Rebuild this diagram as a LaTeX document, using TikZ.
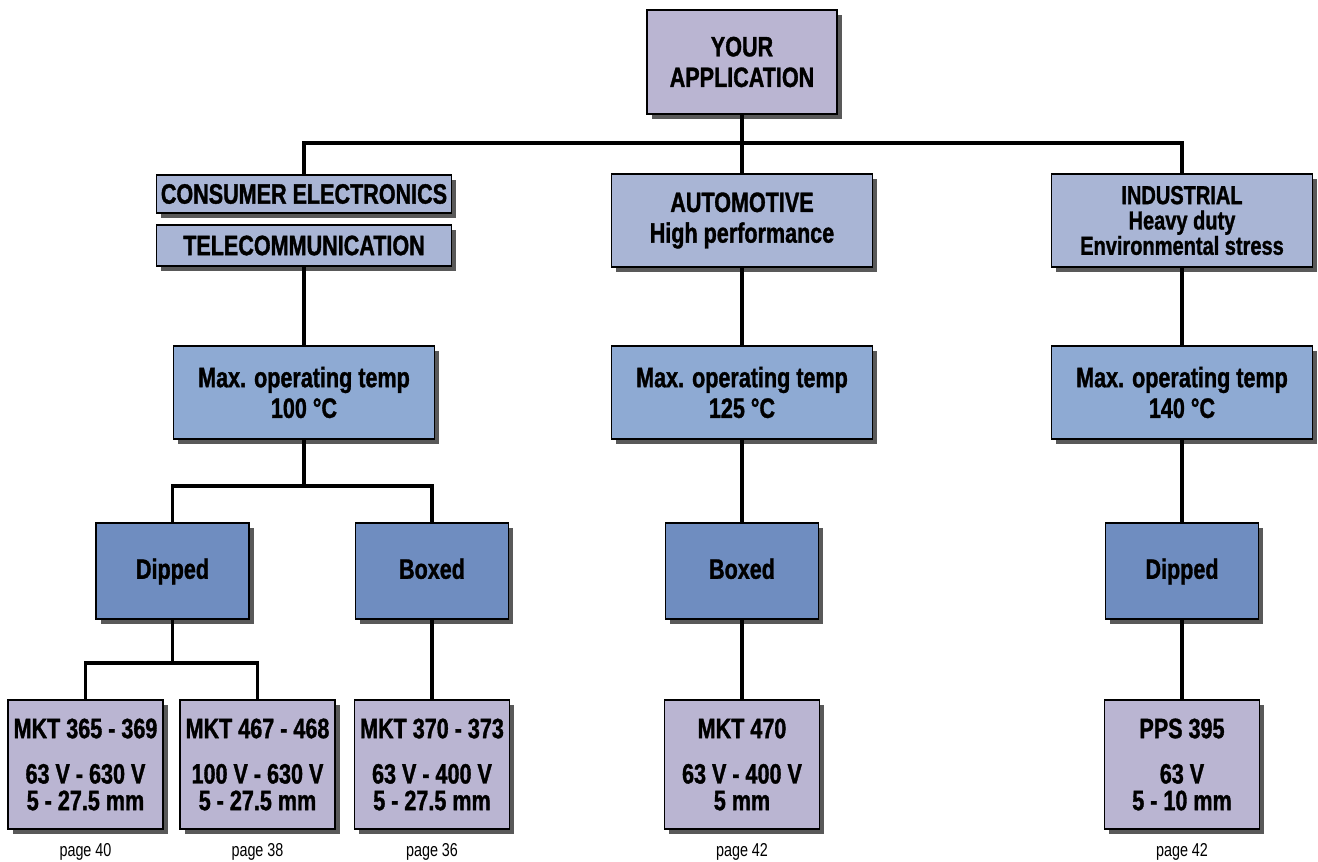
\documentclass[tikz,border=0pt]{standalone}
\usepackage{fontspec}
\setmainfont{Liberation Sans}[FakeStretch=0.77, BoldFeatures={FakeBold=1.2}]
\usetikzlibrary{shadows}

\definecolor{appfill}{HTML}{BAB5D2}
\definecolor{catfill}{HTML}{A9B5D5}
\definecolor{tempfill}{HTML}{8EAAD3}
\definecolor{typefill}{HTML}{6F8DC0}

\tikzset{
  box/.style={draw, line width=1pt, align=center, inner sep=1pt,
    font=\bfseries\fontsize{21}{23}\selectfont,
    drop shadow={shadow xshift=3.5pt, shadow yshift=-3.5pt, fill=black!65, opacity=1}},
  appbox/.style={box, fill=appfill, minimum width=142.5pt, minimum height=78pt},
  catbox/.style={box, fill=catfill, minimum width=221.25pt},
  groupbox/.style={box, fill=catfill, minimum width=195.75pt, minimum height=69.75pt},
  tempbox/.style={box, fill=tempfill, minimum width=195.75pt, minimum height=69.75pt},
  typebox/.style={box, fill=typefill, minimum width=114.75pt, minimum height=72pt,
    text height=2.2ex, text depth=0pt},
  partbox/.style={box, fill=appfill, minimum width=116.25pt, minimum height=96.75pt,
    font=\bfseries\fontsize{21}{20}\selectfont},
  pagelabel/.style={font=\fontsize{14}{16}\selectfont},
  wire/.style={line width=2.3pt}
}

\begin{document}
\begin{tikzpicture}[x=0.75pt, y=-0.75pt]
\useasboundingbox (0,0) rectangle (1318,861);

% top
\node[appbox] (app) at (742,62) {YOUR\\APPLICATION};

% markets
\node[catbox, minimum height=28.5pt] (cons) at (304,194) {CONSUMER ELECTRONICS};
\node[catbox, minimum height=30.75pt] (tele) at (304,245.5) {TELECOMMUNICATION};
\node[groupbox] (auto) at (742,220.5) {AUTOMOTIVE\\High performance};
\node[groupbox, font=\bfseries\fontsize{19.5}{19}\selectfont] (ind) at (1182,220.5) {INDUSTRIAL\\Heavy duty\\Environmental stress};

% temperatures
\node[tempbox] (temp1) at (304,392.5) {Max. operating temp\\100 °C};
\node[tempbox] (temp2) at (742,392.5) {Max. operating temp\\125 °C};
\node[tempbox] (temp3) at (1182,392.5) {Max. operating temp\\140 °C};

% styles
\node[typebox] (dip1) at (172.5,571) {Dipped};
\node[typebox] (box1) at (432,571) {Boxed};
\node[typebox] (box2) at (742,571) {Boxed};
\node[typebox] (dip2) at (1182,571) {Dipped};

% series
\node[partbox] (p365) at (85.5,764.5) {MKT 365 - 369\\[14pt]63 V - 630 V\\5 - 27.5 mm};
\node[partbox] (p467) at (257.5,764.5) {MKT 467 - 468\\[14pt]100 V - 630 V\\5 - 27.5 mm};
\node[partbox] (p370) at (432,764.5) {MKT 370 - 373\\[14pt]63 V - 400 V\\5 - 27.5 mm};
\node[partbox] (p470) at (742,764.5) {MKT 470\\[14pt]63 V - 400 V\\5 mm};
\node[partbox] (p395) at (1182,764.5) {PPS 395\\[14pt]63 V\\5 - 10 mm};

\node[pagelabel] (pg40) at (85.5,852) {page 40};
\node[pagelabel] (pg38) at (257.5,852) {page 38};
\node[pagelabel] (pg36) at (432,852) {page 36};
\node[pagelabel] (pg42a) at (742,852) {page 42};
\node[pagelabel] (pg42b) at (1182,852) {page 42};

% connectors
\coordinate (bus1) at (742,143);
\coordinate (bus2) at (304,486);
\coordinate (bus3) at (172.5,663);

\draw[wire] (app.south) -- (bus1);
\draw[wire] (bus1) -| (cons.north);
\draw[wire] (bus1) -| (ind.north);
\draw[wire] (bus1) -- (auto.north);

\draw[wire] (tele.south) -- (temp1.north);
\draw[wire] (auto.south) -- (temp2.north);
\draw[wire] (ind.south) -- (temp3.north);

\draw[wire] (temp1.south) -- (bus2);
\draw[wire] (bus2) -| (dip1.north);
\draw[wire] (bus2) -| (box1.north);
\draw[wire] (temp2.south) -- (box2.north);
\draw[wire] (temp3.south) -- (dip2.north);

\draw[wire] (dip1.south) -- (bus3);
\draw[wire] (bus3) -| (p365.north);
\draw[wire] (bus3) -| (p467.north);
\draw[wire] (box1.south) -- (p370.north);
\draw[wire] (box2.south) -- (p470.north);
\draw[wire] (dip2.south) -- (p395.north);
\end{tikzpicture}
\end{document}
